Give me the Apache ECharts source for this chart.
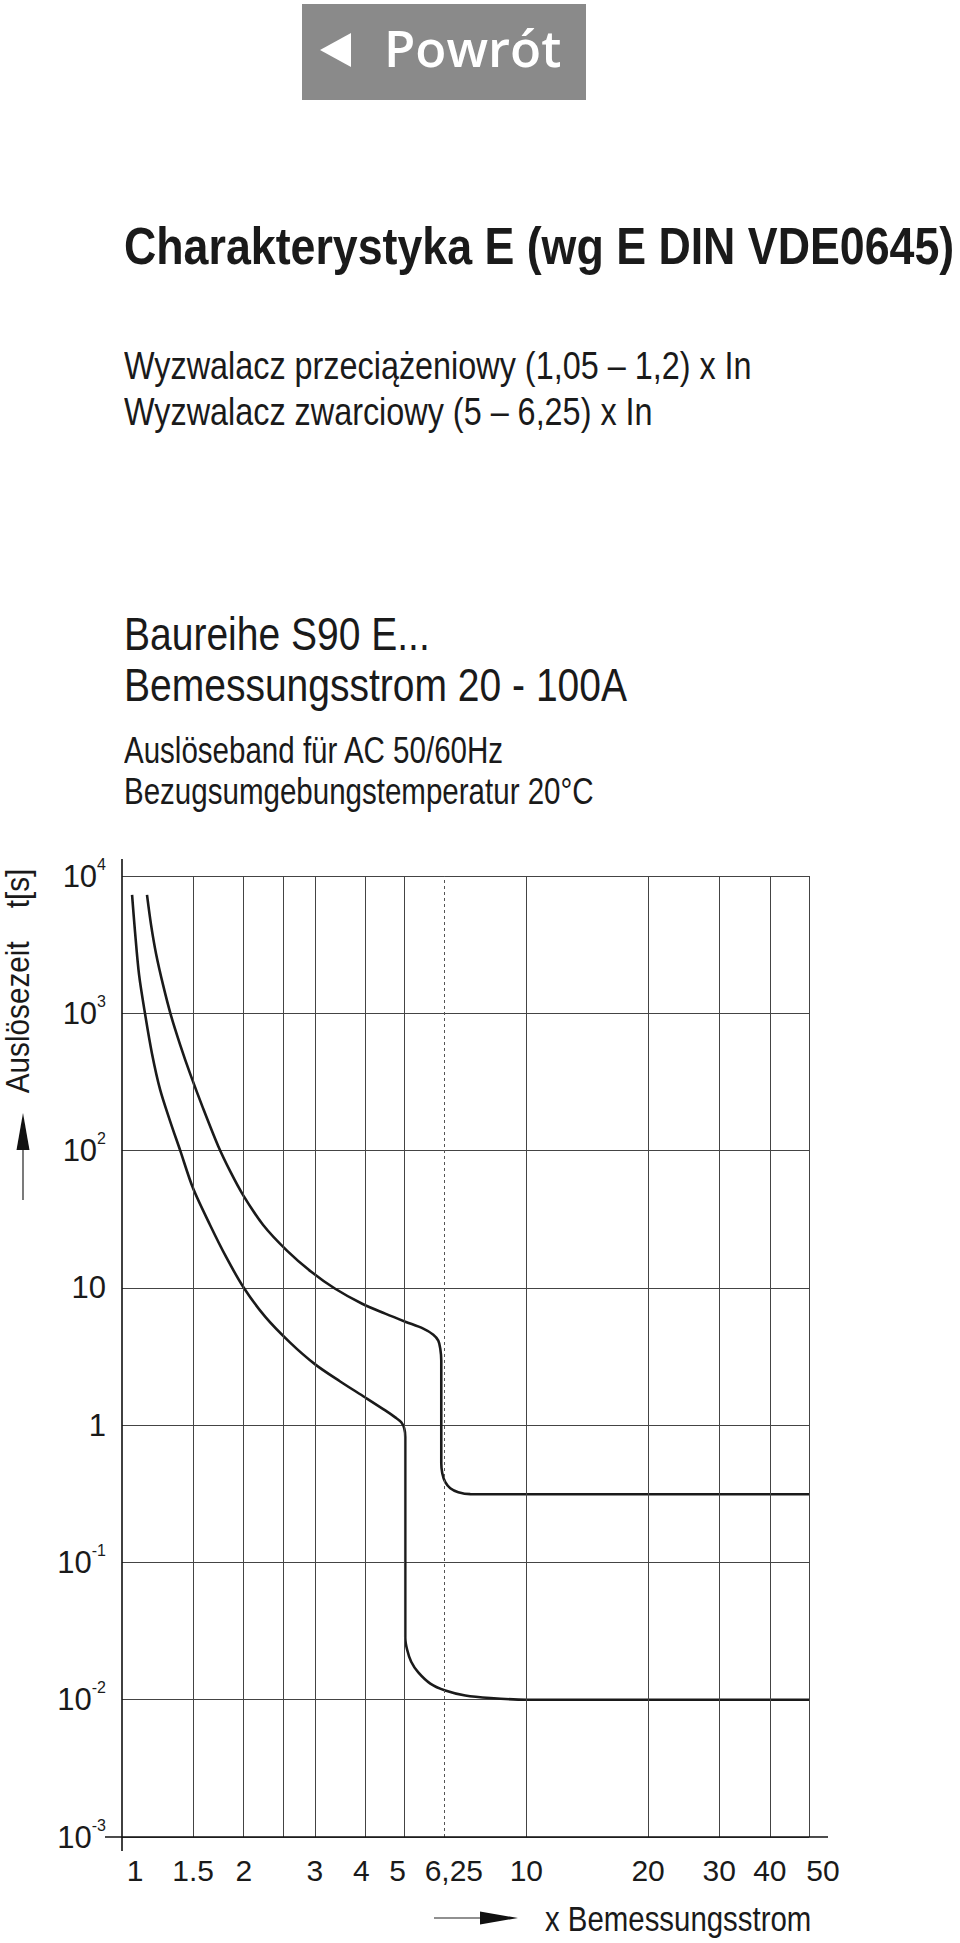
<!DOCTYPE html>
<html>
<head>
<meta charset="utf-8">
<script src="https://cdn.jsdelivr.net/npm/echarts@6/dist/echarts.min.js"></script>
<style>
html,body{margin:0;padding:0;background:#fff;}
#chart{position:absolute;left:0;top:0;width:960px;height:1943px;}
.t{position:absolute;left:124px;white-space:nowrap;color:#1a1a1a;font-family:'Liberation Sans',Arial,sans-serif;line-height:1;transform-origin:0 0;transform:scaleX(0.83);}
#btn{position:absolute;left:302px;top:4px;width:284px;height:96px;background:#8a8a8a;}
#tri{position:absolute;left:18px;top:29px;width:0;height:0;border-top:17px solid transparent;border-bottom:17px solid transparent;border-right:31px solid #fff;}
#btxt{position:absolute;left:82px;top:18px;font-family:'Open Sans','Noto Sans',sans-serif;font-weight:600;font-size:51px;color:#fff;line-height:1;white-space:nowrap;}
.pin{position:absolute;width:0;height:0;}
.pin span{position:absolute;left:0;top:0;white-space:pre;color:#1a1a1a;font-family:'Liberation Sans',Arial,sans-serif;line-height:1;}
</style>
</head>
<body>
<div id="chart"></div>
<div id="btn"><div id="tri"></div><div id="btxt">Powrót</div></div>
<div class="t" style="top:220px;font-size:52px;font-weight:bold;transform:scaleX(0.86);">Charakterystyka E (wg E DIN VDE0645)</div>
<div class="t" style="top:346px;font-size:39px;">Wyzwalacz przeciążeniowy (1,05 – 1,2) x In</div>
<div class="t" style="top:392px;font-size:39px;">Wyzwalacz zwarciowy (5 – 6,25) x In</div>
<div class="t" style="top:610px;font-size:47px;">Baureihe S90 E...</div>
<div class="t" style="top:661px;font-size:47px;">Bemessungsstrom 20 - 100A</div>
<div class="t" style="top:733px;font-size:36px;transform:scaleX(0.82);">Auslöseband für AC 50/60Hz</div>
<div class="t" style="top:774px;font-size:36px;transform:scaleX(0.82);">Bezugsumgebungstemperatur 20°C</div>
<div class="pin" style="left:17px;top:981px;"><span style="font-size:33px;transform:translate(-50%,-50%) rotate(-90deg) scaleX(0.9);">Auslösezeit    t[s]</span></div>
<div class="pin" style="left:545px;top:1901px;"><span style="font-size:35px;transform-origin:0 0;transform:scaleX(0.84);">x Bemessungsstrom</span></div>
<script>
// ---- data ----
const xLabelValues = [1, 1.5, 2, 3, 4, 5, 6.25, 10, 20, 30, 40, 50];
const xLabelTexts  = ['1', '1.5', '2', '3', '4', '5', '6,25', '10', '20', '30', '40', '50'];
const xGridValues  = [1.5, 2, 2.5, 3, 4, 5, 10, 20, 30, 40, 50];
const xDashedValues = [6.25];
const yTickValues = [0.001, 0.01, 0.1, 1, 10, 100, 1000, 10000];
const yTickBases  = ['10', '10', '10', '1', '10', '10', '10', '10'];
const yTickExps   = ['-3', '-2', '-1', '', '', '2', '3', '4'];
const lowerCurve = [
  [1.059, 7280], [1.077, 3920], [1.102, 1910], [1.14, 995], [1.186, 510], [1.242, 279],
  [1.315, 164], [1.392, 100.7], [1.498, 53.3], [1.651, 28.7], [1.809, 16.8], [1.993, 10.2],
  [2.259, 6.17], [2.605, 3.99], [3.004, 2.77], [3.464, 2.08], [3.996, 1.59], [4.477, 1.28],
  [4.739, 1.14], [4.905, 1.05], [4.989, 0.948], [5.018, 0.82], [5.018, 0.0283], [5.07, 0.0232],
  [5.19, 0.0189], [5.404, 0.0158], [5.787, 0.0131], [6.302, 0.01167], [7.063, 0.01073],
  [8.145, 0.01028], [10, 0.01], [50, 0.01]
];
const upperCurve = [
  [1.153, 7278], [1.18, 4406], [1.214, 2715], [1.263, 1616], [1.322, 962], [1.392, 592],
  [1.473, 365], [1.587, 203], [1.729, 108], [1.851, 70.8], [1.993, 47.4], [2.234, 28.7],
  [2.562, 18.6], [2.937, 13.1], [3.367, 9.85], [3.926, 7.66], [4.477, 6.49], [5.018, 5.67],
  [5.56, 5.05], [5.887, 4.56], [6.056, 4.13], [6.125, 3.61], [6.16, 2.96], [6.16, 0.528],
  [6.195, 0.447], [6.302, 0.384], [6.484, 0.3475], [6.786, 0.325], [7.268, 0.3144], [10, 0.314], [50, 0.314]
];

// ---- styles ----
const FONT = "'Liberation Sans',Arial,sans-serif";
const INK = '#1a1a1a';
const GRIDC = '#444';
const labelShift = {'1': 13, '4': -4, '5': -7, '6,25': 10, '50': 14};

const xRich = {};
xLabelTexts.forEach((t, i) => {
  const s = labelShift[t] || 0;
  xRich['x' + i] = {
    fontSize: 30, fontFamily: FONT, color: INK,
    padding: s > 0 ? [0, 0, 0, 2 * s] : [0, -2 * s, 0, 0]
  };
});

const chart = echarts.init(document.getElementById('chart'), null, {renderer: 'svg', width: 960, height: 1943});
chart.setOption({
  animation: false,
  backgroundColor: 'transparent',
  grid: {left: 122, top: 876, width: 687, height: 961, containLabel: false, outerBoundsMode: 'none'},
  xAxis: {
    type: 'log', logBase: 10, min: 1, max: 50,
    axisLine: {show: false}, axisTick: {show: false}, splitLine: {show: false},
    axisLabel: {
      customValues: xLabelValues, margin: 18, showMinLabel: true, showMaxLabel: true,
      formatter: function (v) {
        const i = xLabelValues.findIndex(a => Math.abs(a - v) < 1e-6);
        return i < 0 ? '' : '{x' + i + '|' + xLabelTexts[i] + '}';
      },
      rich: xRich
    }
  },
  yAxis: {
    type: 'log', logBase: 10, min: 0.001, max: 10000, splitNumber: 7,
    axisLine: {show: false}, axisTick: {show: false},
    splitLine: {show: true, lineStyle: {color: GRIDC, width: 1}},
    axisLabel: {
      margin: 16, showMinLabel: true, showMaxLabel: true,
      formatter: function (v) {
        const i = yTickValues.findIndex(a => Math.abs(Math.log10(a) - Math.log10(v)) < 1e-6);
        if (i < 0) return '';
        return yTickExps[i] ? '{n|' + yTickBases[i] + '}{s|' + yTickExps[i] + '}' : '{n|' + yTickBases[i] + '}';
      },
      rich: {
        n: {fontSize: 31, fontFamily: FONT, color: INK, lineHeight: 40},
        s: {fontSize: 16, fontFamily: FONT, color: INK, verticalAlign: 'top'}
      }
    }
  },
  series: [
    {
      type: 'line', data: [], z: 1, silent: true,
      markLine: {
        silent: true, symbol: ['none', 'none'], label: {show: false}, animation: false,
        emphasis: {disabled: true},
        lineStyle: {color: GRIDC, width: 1, type: 'solid'},
        data: xGridValues.map(v => ({xAxis: v, lineStyle: {type: 'solid', color: GRIDC, width: 1}}))
          .concat(xDashedValues.map(v => ({xAxis: v, lineStyle: {type: [3, 3], color: '#555', width: 1}})))
      }
    },
    {
      type: 'line', data: lowerCurve, z: 3, smooth: 0.3, showSymbol: false, silent: true,
      lineStyle: {color: INK, width: 2.6}, emphasis: {disabled: true}
    },
    {
      type: 'line', data: upperCurve, z: 3, smooth: 0.3, showSymbol: false, silent: true,
      lineStyle: {color: INK, width: 2.6}, emphasis: {disabled: true}
    }
  ],
  graphic: [
    {type: 'line', z: 10, shape: {x1: 122, y1: 859, x2: 122, y2: 1851}, style: {stroke: '#111', lineWidth: 1.6}},
    {type: 'line', z: 10, shape: {x1: 105, y1: 1837, x2: 828, y2: 1837}, style: {stroke: '#111', lineWidth: 1.6}},
    {type: 'line', shape: {x1: 23, y1: 1200, x2: 23, y2: 1146}, style: {stroke: '#222', lineWidth: 1.2}},
    {type: 'polygon', shape: {points: [[23, 1113], [16.5, 1150], [29.5, 1150]]}, style: {fill: '#111'}},
    {type: 'line', shape: {x1: 434, y1: 1918, x2: 484, y2: 1918}, style: {stroke: '#222', lineWidth: 1.2}},
    {type: 'polygon', shape: {points: [[518, 1918], [480, 1911.5], [480, 1924.5]]}, style: {fill: '#111'}}
  ]
});
</script>
</body>
</html>
